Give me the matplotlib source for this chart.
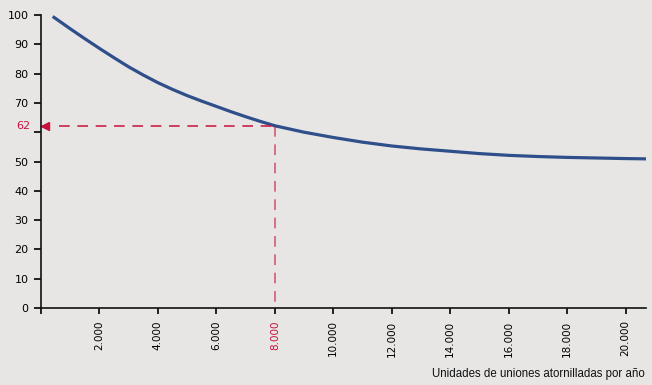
import numpy as np
import matplotlib
matplotlib.use('Agg')
import matplotlib.pyplot as plt

# cost curve vs. yearly volume of bolted joints
units = [400, 1000, 1500, 2000, 2500, 3000, 3500, 4000, 4500, 5000, 5500,
         6000, 6500, 7000, 7500, 8000, 9000, 10000, 11000, 12000, 13000,
         14000, 15000, 16000, 17000, 18000, 19000, 20000, 20700]
cost = [99.5, 95.3, 91.9, 88.6, 85.4, 82.3, 79.5, 76.9, 74.6, 72.5, 70.6,
        68.8, 67.0, 65.3, 63.7, 62.2, 60.0, 58.2, 56.6, 55.3, 54.3,
        53.5, 52.7, 52.1, 51.7, 51.4, 51.2, 51.0, 50.9]

ref_units = 8000
ref_cost = 62

ytick_vals = [0, 10, 20, 30, 40, 50, 60, 70, 80, 90, 100]
ytick_labels = ['0', '10', '20', '30', '40', '50', '', '70', '80', '90', '100']
xtick_vals = [0, 2000, 4000, 6000, 8000, 10000, 12000, 14000, 16000, 18000, 20000]
xtick_labels = ['', '2.000', '4.000', '6.000', '8.000', '10.000', '12.000',
                '14.000', '16.000', '18.000', '20.000']

bg = '#e8e6e5'
blue = '#2f4f8b'
red = '#c8103a'

fig = plt.figure(figsize=(6.52, 3.85), dpi=100, facecolor=bg)
W, H = 652, 385
ax = fig.add_axes([41 / W, 1 - 308 / H, (646 - 41) / W, (308 - 15) / H])
ax.set_facecolor(bg)

ax.plot(units, cost, color=blue, lw=2.3, solid_capstyle='butt',
        solid_joinstyle='round')

# reference point guides
ax.plot([600, ref_units], [ref_cost, ref_cost], color=red, lw=1.1,
        dashes=(7, 5))
ax.plot([ref_units, ref_units], [ref_cost, 0], color=red, lw=1.1,
        dashes=(7, 5), alpha=0.7)
ax.plot([130], [ref_cost], marker='<', color=red, ms=6, clip_on=False)
ax.text(-380, ref_cost, str(ref_cost), color=red, fontsize=8,
        ha='right', va='center', family='DejaVu Sans')

ax.set_xlim(0, 20700)
ax.set_ylim(0, 100)
for s in ['top', 'right']:
    ax.spines[s].set_visible(False)
for s in ['left', 'bottom']:
    ax.spines[s].set_linewidth(1.2)
    ax.spines[s].set_color('#111111')

ax.set_yticks(ytick_vals)
ax.set_yticklabels(ytick_labels, fontsize=8)
ax.set_xticks(xtick_vals)
ax.set_xticklabels(xtick_labels, fontsize=7.5, rotation=90)
ax.tick_params(axis='y', length=5, width=1.2, pad=4)
ax.tick_params(axis='x', length=4, width=1.2, pad=5)
for lbl in ax.get_xticklabels():
    if lbl.get_text() == '8.000':
        lbl.set_color(red)

fig.text(645 / W, 1 - 374 / H, 'Unidades de uniones atornilladas por año',
         ha='right', va='center', fontsize=8.3, family='Liberation Sans',
         color='#111111')

fig.savefig('out.png', dpi=100, facecolor=bg)
